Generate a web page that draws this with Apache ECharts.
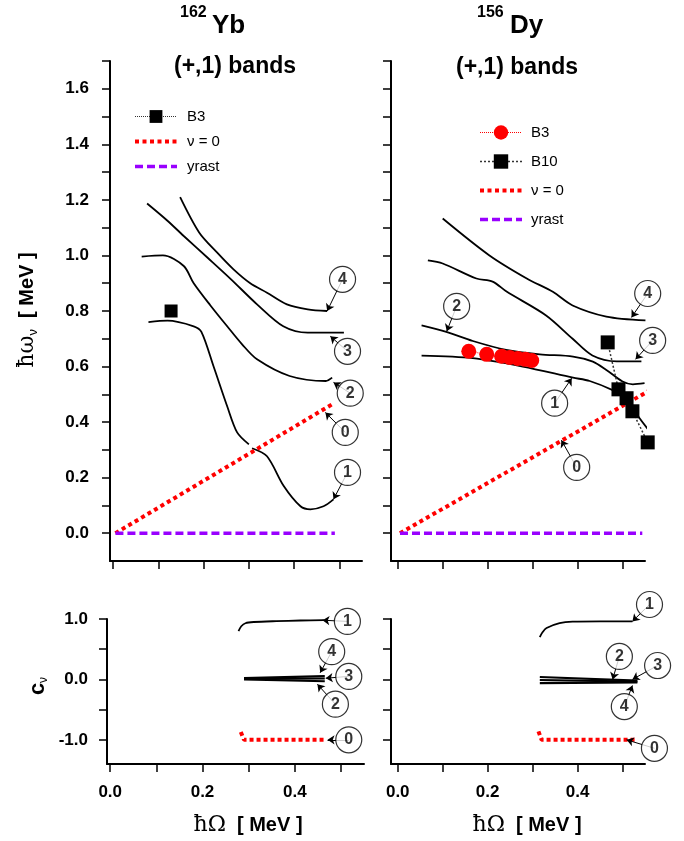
<!DOCTYPE html>
<html>
<head>
<meta charset="utf-8">
<script src="https://cdn.jsdelivr.net/npm/echarts@6/dist/echarts.min.js"></script>
<style>
html, body { margin: 0; padding: 0; background: #fff; }
#chart { width: 684px; height: 841px; }
</style>
</head>
<body>
<div id="chart"></div>
<script>
var FONT = '"Liberation Sans", Arial, sans-serif';

// ---- 162Yb, frequencies hw_nu vs hOmega ----
var yb_c4 = [[0.148,1.21],[0.19,1.083],[0.23,1.01],[0.266,0.95],[0.303,0.90],[0.34,0.866],[0.384,0.824],[0.43,0.806],[0.473,0.80]];
var yb_c3 = [[0.075,1.187],[0.12,1.125],[0.156,1.07],[0.21,0.99],[0.26,0.915],[0.318,0.824],[0.376,0.745],[0.43,0.722],[0.51,0.722]];
var yb_c2 = [[0.063,0.996],[0.11,1.0],[0.156,0.962],[0.178,0.90],[0.215,0.82],[0.252,0.745],[0.285,0.68],[0.318,0.626],[0.39,0.566],[0.47,0.548],[0.484,0.56]];
var yb_c1a = [[0.078,0.76],[0.12,0.765],[0.178,0.745],[0.195,0.725],[0.222,0.60],[0.252,0.457],[0.274,0.363],[0.30,0.32]];
var yb_c1b = [[0.307,0.306],[0.34,0.277],[0.377,0.17],[0.414,0.097],[0.436,0.086],[0.465,0.097],[0.487,0.122]];
var yb_B3 = [[0.128,0.80]];
var yb_nu0 = [[0.005,0],[0.487,0.467]];
var yb_yrast = [[0.005,0],[0.49,0]];
// circle tags: [circle x, circle y, arrow x, arrow y, text]
var yb_tags = [[0.507,0.914,0.473,0.80,'4'],[0.518,0.655,0.48,0.709,'3'],[0.524,0.504,0.487,0.543,'2'],
               [0.513,0.363,0.469,0.435,'0'],[0.518,0.219,0.487,0.122,'1']];

// ---- 156Dy ----
var dy_c4 = [[0.10,1.133],[0.204,1.0],[0.287,0.917],[0.345,0.869],[0.389,0.82],[0.464,0.78],[0.551,0.766]];
var dy_c3 = [[0.067,0.982],[0.10,0.971],[0.175,0.917],[0.211,0.906],[0.242,0.87],[0.33,0.784],[0.389,0.70],[0.433,0.64],[0.487,0.619],[0.542,0.619]];
var dy_c2 = [[0.053,0.748],[0.108,0.725],[0.167,0.692],[0.241,0.66],[0.316,0.644],[0.39,0.636],[0.434,0.618],[0.464,0.588],[0.50,0.546],[0.523,0.536],[0.549,0.54]];
var dy_c1 = [[0.053,0.639],[0.167,0.63],[0.278,0.60],[0.39,0.56],[0.427,0.548],[0.478,0.515],[0.508,0.486],[0.538,0.414],[0.578,0.33]];
var dy_B3 = [[0.158,0.655],[0.198,0.644],[0.231,0.637],[0.249,0.633],[0.267,0.629],[0.284,0.626],[0.298,0.622]];
var dy_B10 = [[0.467,0.687],[0.491,0.518],[0.509,0.486],[0.522,0.439],[0.556,0.327]];
var dy_nu0 = [[0.005,0],[0.56,0.514]];
var dy_yrast = [[0.005,0],[0.544,0]];
var dy_tags = [[0.556,0.863,0.52,0.777,'4'],[0.567,0.694,0.529,0.626,'3'],[0.131,0.817,0.109,0.727,'2'],
               [0.349,0.468,0.387,0.558,'1'],[0.398,0.237,0.364,0.335,'0']];

// ---- c_nu, 162Yb ----
var ybc_1 = [[0.278,0.80],[0.284,0.88],[0.293,0.93],[0.311,0.95],[0.36,0.965],[0.412,0.975],[0.463,0.98]];
var ybc_2 = [[0.29,0.0],[0.465,-0.03]];
var ybc_3 = [[0.29,0.01],[0.465,0.015]];
var ybc_4 = [[0.29,0.02],[0.465,0.055]];
var ybc_0 = [[0.283,-0.87],[0.29,-1.0],[0.467,-1.0]];
var ybc_tags = [[0.514,0.96,0.46,0.98,'1'],[0.48,0.46,0.455,0.11,'4'],[0.517,0.05,0.467,0.02,'3'],
                [0.488,-0.41,0.449,-0.08,'2'],[0.517,-1.0,0.471,-1.0,'0']];

// ---- c_nu, 156Dy ----
var dyc_1 = [[0.316,0.70],[0.322,0.78],[0.331,0.85],[0.36,0.93],[0.389,0.955],[0.45,0.96],[0.522,0.96]];
var dyc_2 = [[0.316,0.04],[0.533,-0.02]];
var dyc_3 = [[0.316,-0.01],[0.533,-0.035]];
var dyc_4 = [[0.316,-0.06],[0.533,-0.05]];
var dyc_0 = [[0.313,-0.86],[0.32,-1.0],[0.531,-1.0]];
var dyc_tags = [[0.56,1.24,0.522,0.96,'1'],[0.493,0.38,0.478,0.0,'2'],[0.578,0.23,0.522,0.0,'3'],
                [0.504,-0.45,0.522,-0.1,'4'],[0.571,-1.14,0.509,-1.0,'0']];

// axis ticks / labels
var xTicks = [0,0.1,0.2,0.3,0.4,0.5];
var xLabels = [0,0.2,0.4];
var wTicks = [0,0.1,0.2,0.3,0.4,0.5,0.6,0.7,0.8,0.9,1.0,1.1,1.2,1.3,1.4,1.5,1.6,1.7];
var wLabels = [0,0.2,0.4,0.6,0.8,1.0,1.2,1.4,1.6];
var cTicks = [-1,-0.5,0,0.5,1];
var cLabels = [-1,0,1];

var legendNames = {
    B3_Yb: 'B3', nu0_Yb: '\u03bd = 0', yrast_Yb: 'yrast',
    B3_Dy: 'B3', B10_Dy: 'B10', nu0_Dy: '\u03bd = 0', yrast_Dy: 'yrast'
};

var RED = '#ff0000', PURPLE = '#9900ff';

function axis(gi, min, max, ticks, labels, margin) {
    return {
        type: 'value', gridIndex: gi, min: min, max: max,
        axisLine: {show: true, onZero: false, lineStyle: {color: '#000', width: 2}},
        axisTick: {show: true, inside: false, length: 8, customValues: ticks, lineStyle: {color: '#000', width: 1.5}},
        axisLabel: {show: labels.length > 0, customValues: labels.length ? labels : undefined, margin: margin,
            color: '#000', fontWeight: 'bold', fontSize: 17, fontFamily: FONT,
            formatter: function (v) { return Number(v).toFixed(1); }},
        splitLine: {show: false}
    };
}

function curve(data, gi, extra) {
    var s = {
        type: 'line', xAxisIndex: gi, yAxisIndex: gi, data: data, smooth: 0.3, clip: false,
        symbol: 'none', showSymbol: false, z: 2,
        lineStyle: {color: '#000', width: 1.8}
    };
    for (var k in extra) s[k] = extra[k];
    return s;
}

function nuLine(name, data, gi) {
    return curve(data, gi, {name: name, smooth: false, itemStyle: {color: RED, opacity: 0},
        lineStyle: {color: RED, width: 4, type: [4, 3.5], cap: 'butt'}});
}

function yrastLine(name, data, gi) {
    return curve(data, gi, {name: name, smooth: false, itemStyle: {color: PURPLE, opacity: 0},
        lineStyle: {color: PURPLE, width: 3.5, type: [8, 4], cap: 'butt'}});
}

function tags(list, gi) {
    return [{
        type: 'lines', coordinateSystem: 'cartesian2d', xAxisIndex: gi, yAxisIndex: gi, clip: false, z: 3,
        symbol: ['none', 'arrow'], symbolSize: 7,
        lineStyle: {color: '#000', width: 1, opacity: 1},
        data: list.map(function (t) { return {coords: [[t[0], t[1]], [t[2], t[3]]]}; })
    }, {
        type: 'scatter', xAxisIndex: gi, yAxisIndex: gi, clip: false, z: 4,
        symbol: 'circle', symbolSize: 26,
        itemStyle: {color: '#fff', borderColor: '#000', borderWidth: 1.2},
        label: {show: true, position: 'inside', color: '#000', fontSize: 16, fontWeight: 'bold', fontFamily: FONT,
            formatter: function (p) { return p.data[2]; }},
        data: list.map(function (t) { return [t[0], t[1], t[4]]; })
    }];
}

var series = [
    curve(yb_c4, 0), curve(yb_c3, 0), curve(yb_c2, 0), curve(yb_c1a, 0), curve(yb_c1b, 0),
    nuLine('nu0_Yb', yb_nu0, 0), yrastLine('yrast_Yb', yb_yrast, 0),
    curve(yb_B3, 0, {name: 'B3_Yb', symbol: 'rect', showSymbol: true, symbolSize: 13, z: 5,
        itemStyle: {color: '#000'}, lineStyle: {color: '#333', width: 1, type: 'dotted'}}),

    curve(dy_c4, 1), curve(dy_c3, 1), curve(dy_c2, 1), curve(dy_c1, 1),
    nuLine('nu0_Dy', dy_nu0, 1), yrastLine('yrast_Dy', dy_yrast, 1),
    curve(dy_B3, 1, {name: 'B3_Dy', smooth: false, symbol: 'circle', showSymbol: true, symbolSize: 15, z: 5,
        itemStyle: {color: RED}, lineStyle: {color: RED, width: 1, type: 'dotted'}}),
    curve(dy_B10, 1, {name: 'B10_Dy', smooth: false, symbol: 'rect', showSymbol: true, symbolSize: 14, z: 5,
        itemStyle: {color: '#000'}, lineStyle: {color: '#333', width: 1.5, type: [2, 2]}}),

    curve(ybc_1, 2), curve(ybc_2, 2, {smooth: false, lineStyle: {color: '#000', width: 2.2}}),
    curve(ybc_3, 2, {smooth: false, lineStyle: {color: '#000', width: 2.2}}),
    curve(ybc_4, 2, {smooth: false, lineStyle: {color: '#000', width: 2.2}}),
    curve(ybc_0, 2, {smooth: false, lineStyle: {color: RED, width: 4, type: [4, 3], cap: 'butt'}}),

    curve(dyc_1, 3), curve(dyc_2, 3, {smooth: false, lineStyle: {color: '#000', width: 2.2}}),
    curve(dyc_3, 3, {smooth: false, lineStyle: {color: '#000', width: 2.2}}),
    curve(dyc_4, 3, {smooth: false, lineStyle: {color: '#000', width: 2.2}}),
    curve(dyc_0, 3, {smooth: false, lineStyle: {color: RED, width: 4, type: [4, 3], cap: 'butt'}})
].concat(tags(yb_tags, 0), tags(dy_tags, 1), tags(ybc_tags, 2), tags(dyc_tags, 3));

function txt(x, y, text, size, weight, extra) {
    var st = {text: text, fontSize: size, fontWeight: weight || 'bold', fontFamily: FONT, fill: '#000',
        align: 'left', verticalAlign: 'middle'};
    for (var k in extra) st[k] = extra[k];
    return {type: 'text', x: x, y: y, style: st};
}

var titleRich = {
    h: {fontSize: 22, fontFamily: '"DejaVu Serif", serif', fontWeight: 'normal', lineHeight: 26},
    s: {fontSize: 13, fontFamily: FONT, lineHeight: 13, verticalAlign: 'bottom'},
    b: {fontSize: 20, fontWeight: 'bold', fontFamily: FONT, lineHeight: 26}
};

var option = {
    animation: false,
    backgroundColor: '#fff',
    grid: [
        {left: 110, top: 61, width: 252, height: 500, outerBoundsMode: 'none'},
        {left: 391, top: 61, width: 254, height: 500, outerBoundsMode: 'none'},
        {left: 107, top: 619, width: 257, height: 145, outerBoundsMode: 'none'},
        {left: 391, top: 619, width: 254, height: 145, outerBoundsMode: 'none'}
    ],
    xAxis: [
        axis(0, -0.007, 0.55, xTicks, [], 20),
        axis(1, -0.015, 0.55, xTicks, [], 20),
        axis(2, -0.007, 0.55, xTicks, xLabels, 20),
        axis(3, -0.015, 0.55, xTicks, xLabels, 20)
    ],
    yAxis: [
        axis(0, -0.1, 1.7, wTicks, wLabels, 21),
        axis(1, -0.1, 1.7, wTicks, [], 21),
        axis(2, -1.4, 1.0, cTicks, cLabels, 19),
        axis(3, -1.4, 1.0, cTicks, [], 19)
    ],
    legend: [{
        left: 128, top: 104, orient: 'vertical', itemWidth: 42, itemHeight: 16, itemGap: 10,
        selectedMode: false, data: ['B3_Yb', 'nu0_Yb', 'yrast_Yb'],
        lineStyle: {width: 'inherit'},
        formatter: function (n) { return legendNames[n]; },
        textStyle: {color: '#000', fontSize: 15, fontFamily: FONT, padding: [0, 0, 0, 5]}
    }, {
        left: 473, top: 120, orient: 'vertical', itemWidth: 42, itemHeight: 18, itemGap: 14,
        selectedMode: false, data: ['B3_Dy', 'B10_Dy', 'nu0_Dy', 'yrast_Dy'],
        lineStyle: {width: 'inherit'},
        formatter: function (n) { return legendNames[n]; },
        textStyle: {color: '#000', fontSize: 15, fontFamily: FONT, padding: [0, 0, 0, 4]}
    }],
    graphic: [
        txt(180, 13, '162', 16),
        txt(212, 26, 'Yb', 26),
        txt(477, 13, '156', 16),
        txt(510, 26, 'Dy', 26),
        txt(235, 67, '(+,1) bands', 23, 'bold', {align: 'center'}),
        txt(517, 68, '(+,1) bands', 23, 'bold', {align: 'center'}),
        {type: 'text', x: 27, y: 310, rotation: Math.PI / 2,
            style: {text: '{h|\u0127\u03c9}{s|\u03bd}{b|  [ MeV ]}', rich: titleRich, fill: '#000',
                align: 'center', verticalAlign: 'middle'}},
        {type: 'text', x: 38, y: 686, rotation: Math.PI / 2,
            style: {text: '{c|c}{s|\u03bd}', fill: '#000', align: 'center', verticalAlign: 'middle',
                rich: {c: {fontSize: 22, fontWeight: 'bold', fontFamily: FONT, lineHeight: 24},
                       s: {fontSize: 12, fontFamily: FONT, lineHeight: 12, verticalAlign: 'bottom'}}}},
        {type: 'text', x: 248, y: 825,
            style: {text: '{h|\u0127\u03a9}{b|  [ MeV ]}', rich: titleRich, fill: '#000',
                align: 'center', verticalAlign: 'middle'}},
        {type: 'text', x: 527, y: 825,
            style: {text: '{h|\u0127\u03a9}{b|  [ MeV ]}', rich: titleRich, fill: '#000',
                align: 'center', verticalAlign: 'middle'}}
    ],
    series: series
};

var chart = echarts.init(document.getElementById('chart'));
chart.setOption(option);
</script>
</body>
</html>
